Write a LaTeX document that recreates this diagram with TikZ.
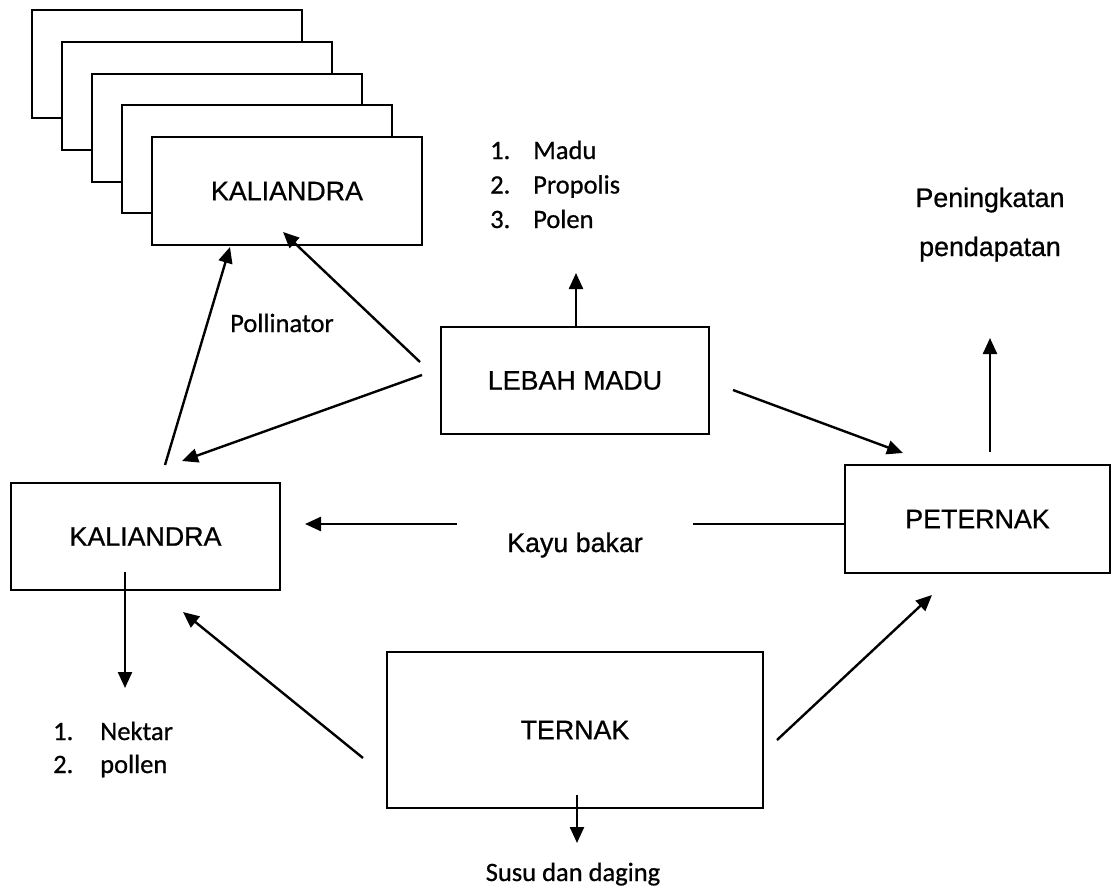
\documentclass[tikz,border=0pt]{standalone}
\usepackage{fontspec}
\setmainfont{Liberation Sans}[UprightFeatures={FakeBold=0.7}]
\newfontfamily\calfont{Carlito}[UprightFeatures={FakeBold=0.7}]
\usetikzlibrary{arrows.meta}
\begin{document}
\begin{tikzpicture}[x=1pt,y=-1pt,
  box/.style={draw=black,line width=2.6pt,fill=white,inner sep=0pt,
    font=\fontsize{26.8}{30}\selectfont},
  kbox/.style={box,minimum width=270pt,minimum height=108pt},
  arr/.style={line width=2.4pt,-{Triangle[length=16pt,width=14pt]}},
  ln/.style={line width=2.4pt},
  lbl/.style={inner sep=0pt,font=\fontsize{26.8}{30}\selectfont},
  clbl/.style={inner sep=0pt,anchor=base west,font=\calfont\fontsize{26.5}{30}\selectfont}]
\useasboundingbox (0,0) rectangle (1112,889);
\fill[white] (0,0) rectangle (1112,889);
% stacked kaliandra boxes
\node[kbox] (k1) at (167,64) {};
\node[kbox] (k2) at (197,96) {};
\node[kbox] (k3) at (227,128) {};
\node[kbox] (k4) at (257,159) {};
\node[kbox] (k5) at (287,191) {KALIANDRA};
% main boxes
\node[box,minimum width=268pt,minimum height=107pt] (lebah) at (575,380.5) {LEBAH MADU};
\node[box,minimum width=269pt,minimum height=107pt] (kal) at (145.5,536.5) {KALIANDRA};
\node[box,minimum width=265pt,minimum height=108pt] (peternak) at (977.5,519) {PETERNAK};
\node[box,minimum width=376pt,minimum height=156pt] (ternak) at (575,730) {TERNAK};
% texts
\node[clbl] (m1n) at (490,159) {1.};
\node[clbl] (m1) at (533,159) {Madu};
\node[clbl] (m2n) at (490,193.5) {2.};
\node[clbl] (m2) at (533,193.5) {Propolis};
\node[clbl] (m3n) at (490,228) {3.};
\node[clbl] (m3) at (533,228) {Polen};
\node[clbl] (n1n) at (53,740) {1.};
\node[clbl] (n1) at (100,740) {Nektar};
\node[clbl] (n2n) at (53,773) {2.};
\node[clbl] (n2) at (100,773) {pollen};
\node[clbl,anchor=base] (poll) at (282,332) {Pollinator};
\node[clbl,anchor=base] (susu) at (573,881) {Susu dan daging};
\node[lbl,anchor=base] (pen1) at (990,207) {Peningkatan};
\node[lbl,anchor=base] (pen2) at (990,256) {pendapatan};
\node[lbl,anchor=base] (kayu) at (575,552) {Kayu bakar};
% connector end points
\coordinate (a1s) at (420,362);  \coordinate (a1t) at (283,232);
\coordinate (a2s) at (422,375);  \coordinate (a2t) at (182,461);
\coordinate (a3s) at (165,465);  \coordinate (a3t) at (230,247);
\coordinate (a4t) at (576,273);
\coordinate (a5s) at (733,390);  \coordinate (a5t) at (903,453);
\coordinate (a6s) at (990,452);  \coordinate (a6t) at (990,338);
\coordinate (kr) at (693,524);
\coordinate (kls) at (457,524);  \coordinate (klt) at (305,524);
\coordinate (a8s) at (125,572);  \coordinate (a8t) at (125,688);
\coordinate (a9s) at (363,758);  \coordinate (a9t) at (183,612);
\coordinate (a10s) at (777,740); \coordinate (a10t) at (932,595);
\coordinate (a11s) at (577,795); \coordinate (a11t) at (577,843);
% connectors
\draw[arr] (a1s) -- (a1t);
\draw[arr] (a2s) -- (a2t);
\draw[arr] (a3s) -- (a3t);
\draw[arr] (lebah.north -| a4t) -- (a4t);
\draw[arr] (a5s) -- (a5t);
\draw[arr] (a6s) -- (a6t);
\draw[ln] (peternak.west |- kr) -- (kr);
\draw[arr] (kls) -- (klt);
\draw[arr] (a8s) -- (a8t);
\draw[arr] (a9s) -- (a9t);
\draw[arr] (a10s) -- (a10t);
\draw[arr] (a11s) -- (a11t);
\end{tikzpicture}
\end{document}
